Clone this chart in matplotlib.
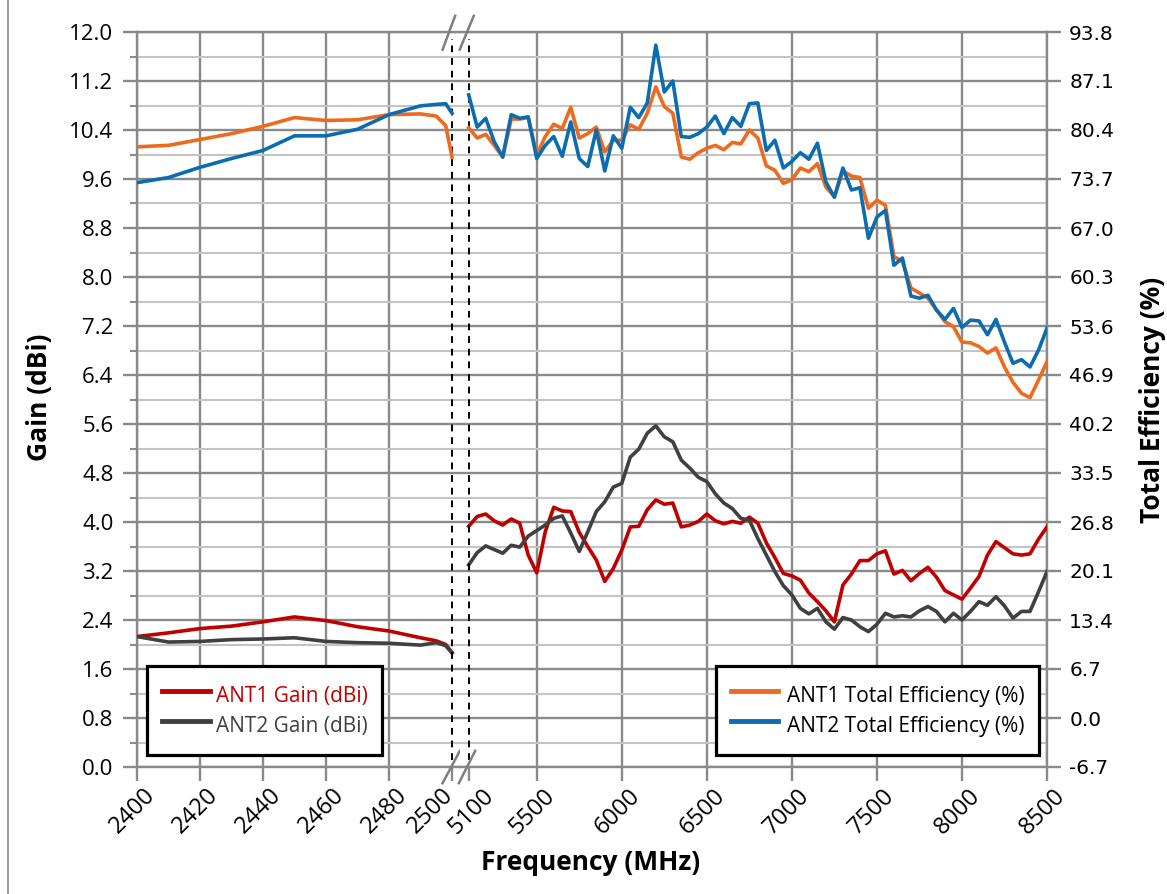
import numpy as np
import matplotlib.pyplot as plt
from matplotlib.lines import Line2D
from matplotlib.ticker import MultipleLocator
import matplotlib.transforms as mtrans

plt.rcParams['font.family'] = ['Open Sans', 'DejaVu Sans']

# ---- 2.4 GHz band ----
freq_24 = [2400, 2410, 2420, 2430, 2440, 2450, 2460, 2470, 2480, 2490, 2495, 2498, 2500]
gain1_24 = [2.13, 2.19, 2.26, 2.30, 2.37, 2.45, 2.39, 2.29, 2.22, 2.11, 2.06, 2.00, 1.87]
gain2_24 = [2.13, 2.04, 2.05, 2.08, 2.09, 2.11, 2.05, 2.03, 2.02, 1.99, 2.03, 1.98, 1.86]
eff1_24 = [78.1, 78.3, 79.1, 79.9, 80.9, 82.1, 81.7, 81.8, 82.5, 82.6, 82.3, 81.0, 76.7]
eff2_24 = [73.2, 73.9, 75.3, 76.5, 77.6, 79.6, 79.6, 80.5, 82.5, 83.7, 83.9, 84.0, 82.7]

# ---- 5.1 - 8.5 GHz band (50 MHz steps) ----
freq_hi = list(range(5100, 8501, 50))
gain1_hi = [3.93, 4.09, 4.13, 4.02, 3.95, 4.05, 3.98, 3.46, 3.17, 3.84,
            4.24, 4.18, 4.17, 3.83, 3.60, 3.38, 3.03, 3.24, 3.54, 3.92,
            3.93, 4.20, 4.36, 4.29, 4.31, 3.92, 3.95, 4.01, 4.13, 4.02,
            3.97, 4.01, 3.98, 4.08, 3.98, 3.66, 3.42, 3.16, 3.12, 3.05,
            2.84, 2.70, 2.55, 2.37, 2.97, 3.15, 3.37, 3.37, 3.48, 3.53,
            3.15, 3.21, 3.04, 3.16, 3.26, 3.10, 2.88, 2.81, 2.74, 2.92,
            3.11, 3.46, 3.68, 3.58, 3.48, 3.46, 3.48, 3.72, 3.92]
gain2_hi = [3.30, 3.50, 3.61, 3.55, 3.49, 3.62, 3.59, 3.77, 3.86, 3.95,
            4.06, 4.10, 3.82, 3.52, 3.84, 4.17, 4.33, 4.57, 4.63, 5.06,
            5.19, 5.45, 5.57, 5.39, 5.31, 5.01, 4.88, 4.73, 4.66, 4.46,
            4.31, 4.22, 4.06, 4.03, 3.73, 3.46, 3.19, 2.96, 2.81, 2.59,
            2.50, 2.59, 2.37, 2.25, 2.44, 2.40, 2.29, 2.21, 2.33, 2.51,
            2.45, 2.47, 2.45, 2.55, 2.62, 2.54, 2.37, 2.51, 2.40, 2.54,
            2.70, 2.64, 2.78, 2.63, 2.43, 2.54, 2.54, 2.86, 3.19]
eff1_hi = [80.7, 79.3, 79.8, 78.3, 76.7, 81.9, 81.9, 82.1, 77.0, 79.5,
           81.2, 80.6, 83.5, 79.3, 79.9, 80.8, 77.4, 79.0, 79.0, 81.1,
           80.5, 82.7, 86.3, 83.6, 82.7, 76.7, 76.4, 77.3, 77.9, 78.3,
           77.7, 78.7, 78.5, 80.4, 79.3, 75.5, 74.9, 73.1, 73.6, 75.2,
           74.7, 75.8, 72.6, 71.3, 74.8, 74.1, 73.9, 69.7, 70.8, 70.1,
           63.1, 62.4, 58.8, 58.1, 57.4, 55.8, 54.2, 53.5, 51.4, 51.3,
           50.8, 49.9, 50.6, 48.0, 45.9, 44.4, 43.8, 46.2, 48.7]
eff2_hi = [85.2, 80.8, 82.0, 78.8, 76.7, 82.5, 82.0, 82.2, 76.5, 78.3,
           79.5, 76.8, 81.5, 76.5, 75.4, 80.4, 74.8, 79.6, 77.9, 83.5,
           82.1, 84.1, 92.0, 85.6, 87.1, 79.5, 79.4, 79.9, 80.8, 82.3,
           79.9, 82.1, 80.9, 84.0, 84.1, 77.6, 79.0, 75.2, 76.1, 77.3,
           76.4, 78.6, 73.3, 71.2, 75.2, 72.2, 72.5, 65.6, 68.5, 69.4,
           61.9, 62.9, 57.7, 57.4, 57.8, 55.8, 54.5, 56.0, 53.4, 54.4,
           54.3, 52.4, 54.5, 51.4, 48.5, 49.0, 48.0, 50.3, 53.3]

xt_24 = [2400, 2420, 2440, 2460, 2480, 2500]
xt_hi = [5100, 5500, 6000, 6500, 7000, 7500, 8000, 8500]
eff_ticks = [-6.7, 0.0, 6.7, 13.4, 20.1, 26.8, 33.5, 40.2, 46.9, 53.6,
             60.3, 67.0, 73.7, 80.4, 87.1, 93.8]

c_red = '#C00000'
c_gray = '#404040'
c_orange = '#EE6A1E'
c_blue = '#0B6DB0'
grid_c = '#8A8A8A'
minor_c = '#C4C4C4'

W, H = 1167, 894
fig = plt.figure(figsize=(W / 100, H / 100), dpi=100)

x0, xm, x1 = 137, 460, 1047
ytop, ybot = 32, 767
axL = fig.add_axes([x0 / W, 1 - ybot / H, (xm - x0) / W, (ybot - ytop) / H])
axR = fig.add_axes([xm / W, 1 - ybot / H, (x1 - xm) / W, (ybot - ytop) / H])

axL.set_xlim(2400, 2400 + (xm - x0) / 3.15)
axR.set_xlim(5100 - 8.7 / 0.1701, 8500)

for ax in (axL, axR):
    ax.set_ylim(0, 12)
    ax.yaxis.set_major_locator(MultipleLocator(0.8))
    ax.yaxis.set_minor_locator(MultipleLocator(0.4))
    ax.grid(axis='y', which='major', color=grid_c, lw=1.7)
    ax.grid(axis='y', which='minor', color=minor_c, lw=1.5)
    ax.grid(axis='x', which='major', color=grid_c, lw=1.7)
    for s in ax.spines.values():
        s.set_color(grid_c)
        s.set_linewidth(1.7)
    ax.tick_params(axis='x', direction='out', length=10, width=1.7, color=grid_c,
                   labelsize=17, pad=2)

axL.spines['right'].set_visible(False)
axR.spines['left'].set_visible(False)

axL.set_xticks(xt_24)
axR.set_xticks(xt_hi)
axL.xaxis.get_gridlines()[-1].set_visible(False)
axR.xaxis.get_gridlines()[0].set_visible(False)

axL.yaxis.set_major_formatter(plt.FormatStrFormatter('%.1f'))
axL.tick_params(axis='y', which='major', direction='out', length=10, width=1.7,
                color=grid_c, labelsize=16, pad=7)
axL.tick_params(axis='y', which='minor', direction='out', length=5, width=1.5,
                color=grid_c)
axR.tick_params(axis='y', which='both', length=0, labelleft=False)

# rotated x labels; the two labels at the break are nudged apart
for ax in (axL, axR):
    for val, lab in zip(ax.get_xticks(), ax.get_xticklabels()):
        dx = 6
        if val == 2500:
            dx = -11
        elif val == 5100:
            dx = 13
        lab.set_rotation(45)
        lab.set_ha('right')
        lab.set_va('top')
        lab.set_rotation_mode('anchor')
        lab.set_transform(lab.get_transform() +
                          mtrans.ScaledTranslation(dx / 100, 0, fig.dpi_scale_trans))

# gain lines
lw = 2.6
axL.plot(freq_24, gain1_24, color=c_red, lw=lw, solid_joinstyle='round', zorder=3)
axL.plot(freq_24, gain2_24, color=c_gray, lw=lw, solid_joinstyle='round', zorder=3)
axR.plot(freq_hi, gain1_hi, color=c_red, lw=lw, solid_joinstyle='round', zorder=3)
axR.plot(freq_hi, gain2_hi, color=c_gray, lw=lw, solid_joinstyle='round', zorder=3)

# efficiency on secondary axes
axL2 = axL.twinx()
axR2 = axR.twinx()
for ax in (axL2, axR2):
    ax.set_ylim(-6.7, 93.8)
    for s in ax.spines.values():
        s.set_visible(False)
axL2.set_yticks([])
axR2.set_yticks(eff_ticks)
axR2.set_yticklabels(['%.1f' % v for v in eff_ticks], family='DejaVu Sans')
axR2.tick_params(axis='y', direction='out', length=10, width=1.7, color=grid_c,
                 labelsize=14.5, pad=6)

axL2.plot(freq_24, eff1_24, color=c_orange, lw=lw, solid_joinstyle='round')
axL2.plot(freq_24, eff2_24, color=c_blue, lw=lw, solid_joinstyle='round')
axR2.plot(freq_hi, eff1_hi, color=c_orange, lw=lw, solid_joinstyle='round')
axR2.plot(freq_hi, eff2_hi, color=c_blue, lw=lw, solid_joinstyle='round')

# band break: dashed lines + // marks
axL.axvline(2500, ymin=0.01, ymax=0.99, color='k', lw=1.4, ls=(0, (3.5, 3)),
            clip_on=False, zorder=4)
axR.axvline(5100, ymin=0.01, ymax=0.99, color='k', lw=1.4, ls=(0, (3.5, 3)),
            clip_on=False, zorder=4)
tL = mtrans.blended_transform_factory(axL.transData, axL.transAxes)
tR = mtrans.blended_transform_factory(axR.transData, axR.transAxes)
mk = dict(color='#7F7F7F', lw=1.8, clip_on=False, zorder=5)
axL.plot([2497.0, 2501.0], [0.976, 1.022], transform=tL, **mk)
axR.plot([5047, 5130], [0.976, 1.022], transform=tR, **mk)
axL.plot([2497.0, 2502.5], [-0.022, 0.022], transform=tL, **mk)
axR.plot([5042, 5138], [-0.022, 0.022], transform=tR, **mk)

# legends
leg_kw = dict(borderaxespad=0, fontsize=15, handlelength=2.3, handleheight=1.85,
              labelspacing=0.0, borderpad=0.7, fancybox=False, framealpha=1)
legL = axL2.legend([Line2D([], [], color=c_red, lw=3.5), Line2D([], [], color=c_gray, lw=3.5)],
                   ['ANT1 Gain (dBi)', 'ANT2 Gain (dBi)'],
                   loc='lower left', bbox_to_anchor=(10 / (xm - x0), 12 / (ybot - ytop)),
                   handletextpad=0.3, **leg_kw)
legL.get_frame().set_edgecolor('k')
legL.get_frame().set_linewidth(2.3)
legL.get_texts()[0].set_color(c_red)
legL.get_texts()[1].set_color(c_gray)

legR = axR2.legend([Line2D([], [], color=c_orange, lw=3.5), Line2D([], [], color=c_blue, lw=3.5)],
                   ['ANT1 Total Efficiency (%)', 'ANT2 Total Efficiency (%)'],
                   loc='lower right', bbox_to_anchor=((1039 - xm) / (x1 - xm), 12 / (ybot - ytop)),
                   handletextpad=0.4, **leg_kw)
legR.get_frame().set_edgecolor('k')
legR.get_frame().set_linewidth(2.3)

# axis titles
fig.text(40 / W, 1 - 397 / H, 'Gain (dBi)', rotation=90, ha='center', va='center',
         fontsize=19, fontweight='bold')
fig.text(1152 / W, 1 - 400 / H, 'Total Efficiency (%)', rotation=90, ha='center',
         va='center', fontsize=19, fontweight='bold')
fig.text(591 / W, 1 - 862 / H, 'Frequency (MHz)', ha='center', va='center',
         fontsize=19, fontweight='bold')

fig.add_artist(Line2D([8 / W, 8 / W], [0, 1], color='#8A8A8A', lw=1.2))

fig.savefig('out.png', dpi=100)
